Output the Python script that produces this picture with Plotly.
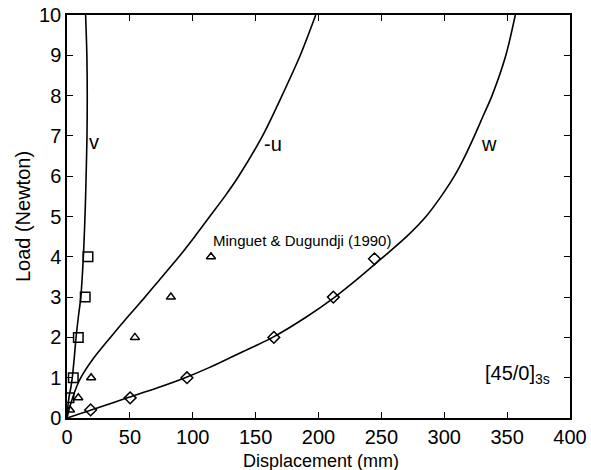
import plotly.graph_objects as go

# ---- data ----
load_v_curve = [0, 0.25, 0.5, 0.78, 1.0, 1.5, 2.0, 2.5, 3.0, 3.5, 4.0, 4.5, 5.0, 5.5, 6.0, 7.0, 8.0, 9.0, 10.0]
v_curve = [0, 0.6, 1.5, 3.2, 4.2, 5.8, 7.2, 9.0, 11.0, 12.1, 13.0, 13.7, 14.3, 14.8, 15.2, 15.9, 16.1, 15.8, 14.8]
load_u_curve = [0, 0.25, 0.5, 0.78, 1.0, 1.5, 2.0, 2.5, 3.0, 3.5, 4.0, 4.5, 5.0, 5.5, 6.0, 7.0, 8.0, 9.0, 10.0]
u_curve = [0, 2.0, 4.5, 7.7, 11.0, 21.5, 34.5, 48.0, 62.0, 75.5, 89.0, 101.5, 113.5, 125.5, 136.5, 155.5, 171.0, 185.5, 197.8]
load_w_curve = [0, 0.25, 0.5, 0.75, 1.0, 1.25, 1.5, 1.75, 2.0, 2.5, 3.0, 3.5, 4.0, 4.5, 5.0, 5.5, 6.0, 6.5, 7.0, 7.5, 8.0, 9.0, 10.0]
w_curve = [0, 24.0, 48.0, 72.0, 94.0, 113.0, 130.0, 147.0, 163.5, 190.0, 213.0, 233.0, 251.7, 270.0, 285.5, 297.5, 308.0, 316.5, 324.0, 331.0, 338.0, 349.0, 356.5]

load_v_pts = [0.5, 1, 2, 3, 4]
v_pts = [1.6, 5.0, 9.0, 14.5, 16.7]
load_u_pts = [0.2, 0.5, 1, 2, 3, 4]
u_pts = [2.4, 9.0, 19.2, 54.0, 82.6, 114.5]
load_w_pts = [0.2, 0.5, 1, 2, 3, 3.95]
w_pts = [18.8, 50.2, 95.4, 164.5, 211.8, 244.5]

x_ticks = [0, 50, 100, 150, 200, 250, 300, 350, 400]
y_ticks = [0, 1, 2, 3, 4, 5, 6, 7, 8, 9, 10]

FONT = "Liberation Sans, Arial, Helvetica, sans-serif"

fig = go.Figure()
line_style = dict(color="black", width=1.6, shape="spline", smoothing=0.8)
for xs, ys in ((v_curve, load_v_curve), (u_curve, load_u_curve), (w_curve, load_w_curve)):
    fig.add_trace(go.Scatter(x=xs, y=ys, mode="lines", line=line_style,
                             showlegend=False, hoverinfo="skip"))

fig.add_trace(go.Scatter(x=v_pts, y=load_v_pts, mode="markers",
                         marker=dict(symbol="square-open", size=9.5, color="black",
                                     line=dict(width=1.5, color="black")), showlegend=False))
fig.add_trace(go.Scatter(x=u_pts, y=load_u_pts, mode="markers",
                         marker=dict(symbol="triangle-up-open", size=8, color="black",
                                     line=dict(width=1.5, color="black")), showlegend=False))
fig.add_trace(go.Scatter(x=w_pts, y=load_w_pts, mode="markers",
                         marker=dict(symbol="diamond-open", size=9, color="black",
                                     line=dict(width=1.5, color="black")), showlegend=False))

ann_font = dict(family=FONT, size=20, color="black")
fig.add_annotation(x=21.5, y=6.85, text="v", showarrow=False, font=ann_font)
fig.add_annotation(x=163.5, y=6.8, text="-u", showarrow=False, font=ann_font)
fig.add_annotation(x=335.5, y=6.8, text="w", showarrow=False, font=ann_font)
fig.add_annotation(x=114.5, y=4.4, text="Minguet & Dugundji (1990)", showarrow=False,
                   xanchor="left", font=dict(family=FONT, size=15, color="black"))
fig.add_annotation(x=386, y=1.07, text="[45/0]<sub>3s</sub>", showarrow=False,
                   xanchor="right", font=dict(family=FONT, size=20, color="black"))
# x-axis title as annotation so it stays inside the 470 px canvas
fig.add_annotation(x=0.505, y=0, xref="paper", yref="paper", text="Displacement (mm)",
                   showarrow=False, xanchor="center", yanchor="top", yshift=-31,
                   font=dict(family=FONT, size=18, color="black"))

axis_common = dict(showgrid=False, zeroline=False, showline=True, linecolor="black",
                   linewidth=1.5, mirror="ticks", ticks="inside", ticklen=6,
                   tickwidth=1.2, tickcolor="black", automargin=False,
                   tickfont=dict(family=FONT, size=20, color="black"))
fig.update_xaxes(range=[0, 400], tickvals=x_ticks, **axis_common)
fig.update_yaxes(range=[0, 10], tickvals=y_ticks,
                 title=dict(text="Load (Newton)", font=dict(family=FONT, size=20, color="black"),
                            standoff=3),
                 **axis_common)

fig.update_layout(width=591, height=470, margin=dict(l=67, r=21, t=15, b=52, autoexpand=False),
                  plot_bgcolor="white", paper_bgcolor="white",
                  font=dict(family=FONT, color="black"))

fig.write_html("out.html", config={"displayModeBar": False},
               post_script="document.body.style.margin='0px';document.body.style.overflow='hidden';")
